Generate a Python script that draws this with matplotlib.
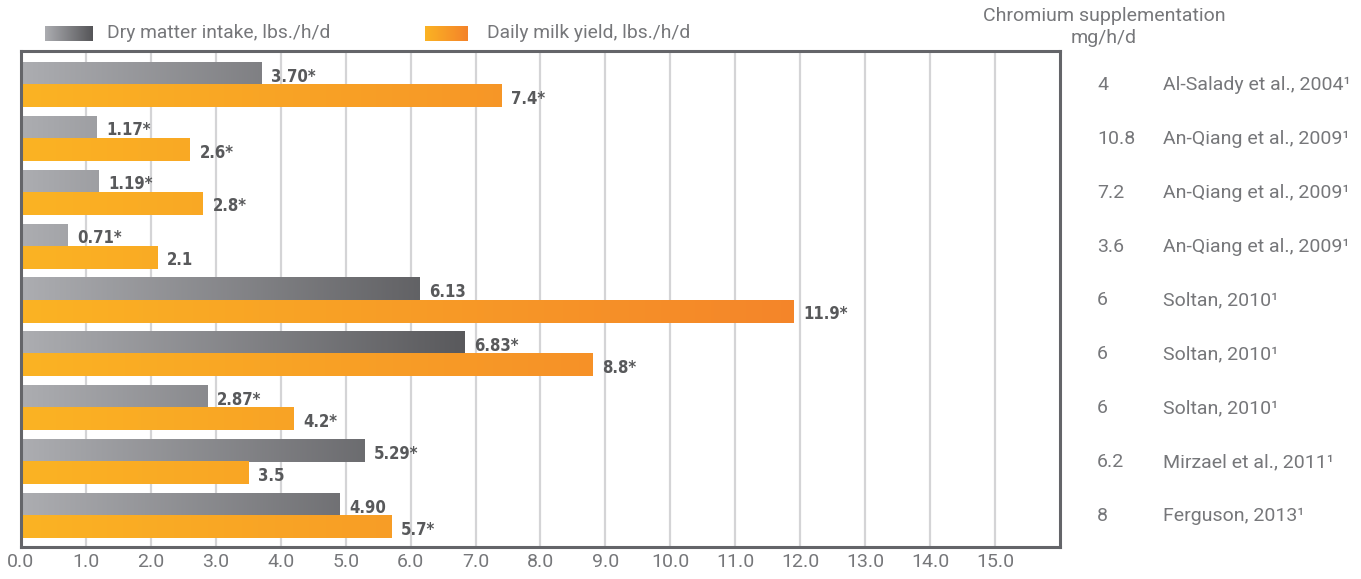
import matplotlib
matplotlib.use("Agg")
import matplotlib.pyplot as plt
from matplotlib.colors import LinearSegmentedColormap, Normalize
from matplotlib.transforms import blended_transform_factory
import numpy as np

# data
dmi = [3.70, 1.17, 1.19, 0.71, 6.13, 6.83, 2.87, 5.29, 4.90]
dmi_labels = ["3.70*", "1.17*", "1.19*", "0.71*", "6.13", "6.83*", "2.87*", "5.29*", "4.90"]
milk = [7.4, 2.6, 2.8, 2.1, 11.9, 8.8, 4.2, 3.5, 5.7]
milk_labels = ["7.4*", "2.6*", "2.8*", "2.1", "11.9*", "8.8*", "4.2*", "3.5", "5.7*"]
doses = ["4", "10.8", "7.2", "3.6", "6", "6", "6", "6.2", "8"]
refs = ["Al-Salady et al., 2004\u00b9", "An-Qiang et al., 2009\u00b9", "An-Qiang et al., 2009\u00b9",
        "An-Qiang et al., 2009\u00b9", "Soltan, 2010\u00b9", "Soltan, 2010\u00b9", "Soltan, 2010\u00b9",
        "Mirzael et al., 2011\u00b9", "Ferguson, 2013\u00b9"]
xticks = np.arange(0, 16)

gray_cm = LinearSegmentedColormap.from_list("g", ["#acadb1", "#555558"])
orange_cm = LinearSegmentedColormap.from_list("o", ["#fbb323", "#f4832a"])
gray_norm = Normalize(0, 7.2)
orange_norm = Normalize(0, 12.5)

light = dict(family=["Roboto", "DejaVu Sans"], weight="normal", color="#76777a")
bold = dict(family=["Liberation Sans Narrow", "DejaVu Sans"], weight="bold",
            stretch="condensed", color="#58595b")

fig = plt.figure(figsize=(13.61, 5.79), dpi=100)
ax = fig.add_axes([0.0154, 0.0553, 0.7634, 0.8566])

y = np.arange(len(dmi))
h = 0.41
b1 = ax.barh(y - 0.205, dmi, height=h, facecolor="none", edgecolor="none")
b2 = ax.barh(y + 0.205, milk, height=h, facecolor="none", edgecolor="none")

def fill_gradient(bars, cmap, norm):
    for p in bars:
        x0, y0, w, hh = p.get_x(), p.get_y(), p.get_width(), p.get_height()
        grad = np.linspace(x0, x0 + w, 256).reshape(1, -1)
        ax.imshow(grad, cmap=cmap, norm=norm, extent=[x0, x0 + w, y0 + hh, y0],
                  aspect="auto", interpolation="bilinear", zorder=2)

fill_gradient(b1, gray_cm, gray_norm)
fill_gradient(b2, orange_cm, orange_norm)

for p, lab in zip(b1, dmi_labels):
    ax.text(p.get_width() + 0.15, p.get_y() + p.get_height() * 0.62, lab,
            va="center", ha="left", fontsize=12, zorder=3, **bold)
for p, lab in zip(b2, milk_labels):
    ax.text(p.get_width() + 0.15, p.get_y() + p.get_height() * 0.62, lab,
            va="center", ha="left", fontsize=12, zorder=3, **bold)

ax.set_xlim(0, 16)
ax.set_ylim(8.575, -0.63)
ax.set_xticks(xticks)
ax.set_xticklabels(["%.1f" % v for v in xticks])
ax.set_yticks([])
ax.tick_params(axis="x", length=0, pad=4)
for t in ax.get_xticklabels():
    t.set_fontfamily(["Roboto", "DejaVu Sans"])
    t.set_fontweight("normal")
    t.set_fontsize(14)
    t.set_color("#76777a")
for x in xticks[1:]:
    ax.axvline(x, color="#d4d4d6", lw=1.6, zorder=1)
for s in ax.spines.values():
    s.set_color("#646569")
    s.set_linewidth(2.2)

# right-hand table
tr = blended_transform_factory(fig.transFigure, ax.transData)
for yi, d, r in zip(y, doses, refs):
    ax.text(1097 / 1361, yi, d, transform=tr, va="center", ha="left", fontsize=14,
            clip_on=False, **light)
    ax.text(1163 / 1361, yi, r, transform=tr, va="center", ha="left", fontsize=14,
            clip_on=False, **light)
fig.text(1104 / 1361, 1 - 16 / 579, "Chromium supplementation", ha="center", va="center",
         fontsize=14, **light)
fig.text(1104 / 1361, 1 - 38 / 579, "mg/h/d", ha="center", va="center", fontsize=14, **light)

# legend with gradient swatches
def swatch(x0, x1, cmap):
    sa = fig.add_axes([x0 / 1361, 1 - 41 / 579, (x1 - x0) / 1361, 15 / 579])
    sa.imshow(np.linspace(0, 1, 256).reshape(1, -1), cmap=cmap, aspect="auto")
    sa.axis("off")

swatch(45, 92, gray_cm)
swatch(425, 468, orange_cm)
fig.text(107 / 1361, 1 - 33 / 579, "Dry matter intake, lbs./h/d", ha="left", va="center",
         fontsize=13.9, **light)
fig.text(487 / 1361, 1 - 33 / 579, "Daily milk yield, lbs./h/d", ha="left", va="center",
         fontsize=13.9, **light)

fig.savefig("out.png", dpi=100)
